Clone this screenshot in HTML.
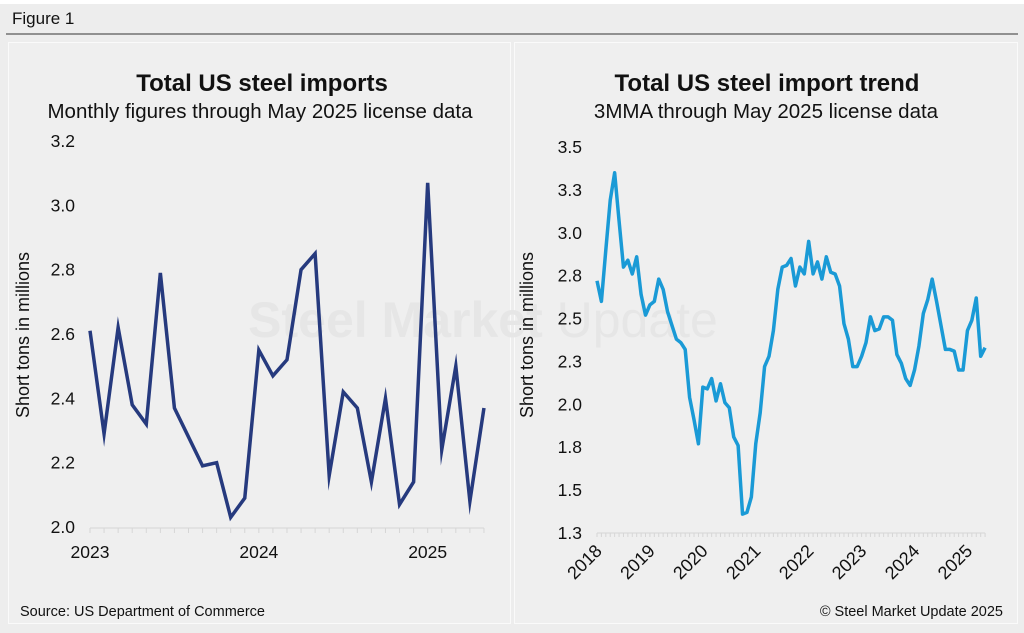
<!DOCTYPE html>
<html><head><meta charset="utf-8"><style>
html,body{margin:0;padding:0;background:#fff;}
svg{display:block;font-family:"Liberation Sans",Arial,sans-serif;}
</style></head><body>
<svg id="fig" width="1024" height="633" viewBox="0 0 1024 633">
<rect x="0" y="4" width="1024" height="629" fill="#ededed"/>
<text x="12" y="24" font-size="17" fill="#111">Figure 1</text>
<line x1="6" y1="34" x2="1018" y2="34" stroke="#333" stroke-width="1"/>
<rect x="8.5" y="42.5" width="502" height="581" fill="#efefef" stroke="#fafafa"/>
<rect x="514.5" y="42.5" width="503" height="581" fill="#efefef" stroke="#fafafa"/>
<text x="483" y="337" font-size="50" font-weight="bold" fill="#e6e6e6" text-anchor="middle">Steel Market <tspan font-weight="normal">Update</tspan></text>

<text x="262" y="91" font-size="24" font-weight="bold" text-anchor="middle" fill="#111">Total US steel imports</text>
<text x="260" y="118" font-size="20.5" text-anchor="middle" fill="#111">Monthly figures through May 2025 license data</text>
<text transform="translate(29,335) rotate(-90)" font-size="18" text-anchor="middle" fill="#111">Short tons in millions</text>
<text x="20" y="616" font-size="14.5" fill="#111">Source: US Department of Commerce</text>

<text x="767" y="91" font-size="24" font-weight="bold" text-anchor="middle" fill="#111">Total US steel import trend</text>
<text x="766" y="118" font-size="20.5" text-anchor="middle" fill="#111">3MMA through May 2025 license data</text>
<text transform="translate(533,335) rotate(-90)" font-size="18" text-anchor="middle" fill="#111">Short tons in millions</text>
<text x="1003" y="616" font-size="14.5" text-anchor="end" fill="#111">© Steel Market Update 2025</text>

<g id="left"></g>
<g id="right"></g>
</svg>
<script>
const NS='http://www.w3.org/2000/svg';
const leftValues=[2.61,2.29,2.62,2.38,2.32,2.79,2.37,2.28,2.19,2.20,2.03,2.09,2.55,2.47,2.52,2.80,2.85,2.16,2.42,2.37,2.14,2.40,2.07,2.14,3.07,2.24,2.50,2.08,2.37];
const leftYTicks=[2.0,2.2,2.4,2.6,2.8,3.0,3.2];
const leftYLabels=['2.0','2.2','2.4','2.6','2.8','3.0','3.2'];
const leftXLabels=['2023','2024','2025'];
const rightValues=[2.72,2.60,2.90,3.19,3.35,3.07,2.80,2.84,2.76,2.86,2.64,2.52,2.58,2.60,2.73,2.67,2.54,2.46,2.38,2.36,2.32,2.04,1.91,1.77,2.10,2.09,2.15,2.02,2.12,2.01,1.98,1.81,1.76,1.36,1.37,1.46,1.77,1.95,2.22,2.28,2.43,2.67,2.80,2.81,2.85,2.69,2.80,2.76,2.95,2.76,2.83,2.73,2.86,2.77,2.76,2.69,2.47,2.38,2.22,2.22,2.28,2.36,2.51,2.43,2.44,2.51,2.51,2.49,2.29,2.24,2.15,2.11,2.20,2.34,2.53,2.61,2.73,2.60,2.46,2.32,2.32,2.31,2.20,2.20,2.43,2.49,2.62,2.28,2.33];
const rightYTicks=[1.25,1.5,1.75,2.0,2.25,2.5,2.75,3.0,3.25,3.5];
const rightYLabels=['1.3','1.5','1.8','2.0','2.3','2.5','2.8','3.0','3.3','3.5'];
const rightXLabels=['2018','2019','2020','2021','2022','2023','2024','2025'];

function el(tag,attrs,parent){const e=document.createElementNS(NS,tag);for(const k in attrs)e.setAttribute(k,attrs[k]);parent.appendChild(e);return e;}

// left chart
(function(){
 const g=document.getElementById('left');
 const x=i=>90+i*14.07, y=v=>527-(v-2.0)/1.2*386;
 leftYTicks.forEach((t,i)=>{const tx=el('text',{x:75,y:y(t)+6,'font-size':17.5,'text-anchor':'end',fill:'#111'},g);tx.textContent=leftYLabels[i];
  
  });
 const ax=el('line',{x1:x(0),y1:528,x2:x(leftValues.length-1),y2:528,stroke:'#d6d6d6','stroke-width':1},g);
 
 
 for(let i=0;i<leftValues.length;i++){const tk=el('line',{x1:x(i),y1:528,x2:x(i),y2:533,stroke:'#d6d6d6'},g);
  
  }
 leftXLabels.forEach((l,i)=>{const tx=el('text',{x:x(i*12),y:558,'font-size':17.5,'text-anchor':'middle',fill:'#111'},g);tx.textContent=l;
  
  });
 const p=el('polyline',{points:leftValues.map((v,i)=>x(i)+','+y(v)).join(' '),fill:'none',stroke:'#263a7e','stroke-width':3.5,'stroke-linejoin':'miter','stroke-miterlimit':10},g);
 
 
})();

// right chart
(function(){
 const g=document.getElementById('right');
 const x=i=>597+i*4.41, y=v=>533-(v-1.25)/2.25*386;
 rightYTicks.forEach((t,i)=>{const tx=el('text',{x:582,y:y(t)+6,'font-size':17.5,'text-anchor':'end',fill:'#111'},g);tx.textContent=rightYLabels[i];
  
  });
 const ax=el('line',{x1:x(0),y1:533,x2:x(rightValues.length-1),y2:533,stroke:'#d6d6d6'},g);
 
 
 for(let i=0;i<rightValues.length;i++){const tk=el('line',{x1:x(i),y1:533,x2:x(i),y2:537,stroke:'#d6d6d6'},g);
  
  }
 rightXLabels.forEach((l,i)=>{const xx=x(i*12)+6;const tx=el('text',{x:0,y:0,'font-size':18,'text-anchor':'end',fill:'#111',transform:'translate('+xx+',552) rotate(-45)'},g);tx.textContent=l;
  
  });
 const p=el('polyline',{points:rightValues.map((v,i)=>x(i)+','+y(v)).join(' '),fill:'none',stroke:'#1a9ad6','stroke-width':3.5,'stroke-linejoin':'round'},g);
 
 
})();
</script>
</body></html>
